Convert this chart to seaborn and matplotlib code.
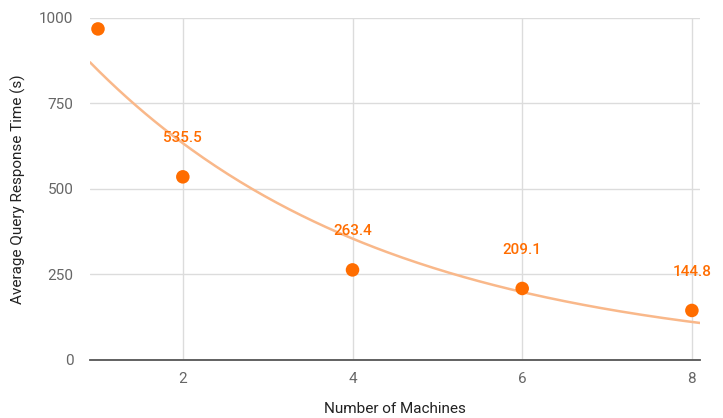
import numpy as np
import pandas as pd
import matplotlib
matplotlib.use("Agg")
import matplotlib.pyplot as plt
import seaborn as sns

# values
machines = [1, 2, 4, 6, 8]
response_time = [968, 535.5, 263.4, 209.1, 144.8]
point_labels = ["", "535.5", "263.4", "209.1", "144.8"]
y_ticks = [0, 250, 500, 750, 1000]
x_ticks = [2, 4, 6, 8]

# exponential trendline y = a * exp(b x)
trend_a = 1132
trend_b = -0.29

orange = "#ff6d00"
trend_color = "#f9b88a"

df = pd.DataFrame({"machines": machines, "time": response_time})

sns.set_style("white")
plt.rcParams["font.family"] = ["Roboto", "DejaVu Sans"]

fig = plt.figure(figsize=(7.23, 4.18), dpi=100)
ax = fig.add_axes([0.1245, 0.1388, 0.8435, 0.8182])

x_min, x_max = 0.906, 8.094
xs = np.linspace(x_min, x_max, 200)
trend = pd.DataFrame({"machines": xs, "time": trend_a * np.exp(trend_b * xs)})
sns.lineplot(data=trend, x="machines", y="time", ax=ax, color=trend_color,
             linewidth=1.8, zorder=2)
sns.scatterplot(data=df, x="machines", y="time", ax=ax, color=orange,
                s=95, edgecolor="none", zorder=3)

for xv, yv, lab in zip(machines, response_time, point_labels):
    if lab:
        ax.annotate(lab, (xv, yv), xytext=(0, 28), textcoords="offset points",
                    ha="center", va="center", color=orange, fontsize=11,
                    fontweight="medium")

ax.set_xlim(x_min, x_max)
ax.set_ylim(0, 1000)
ax.set_xticks(x_ticks)
ax.set_yticks(y_ticks)
ax.grid(True, color="#dcdcdc", linewidth=1)
ax.set_axisbelow(True)
for side in ["left", "right", "top"]:
    ax.spines[side].set_visible(False)
ax.spines["bottom"].set_color("#555555")
ax.spines["bottom"].set_linewidth(1.3)
ax.tick_params(axis="both", length=0, labelsize=11, labelcolor="#666666")
ax.tick_params(axis="x", pad=9)
ax.tick_params(axis="y", pad=12)

ax.set_xlabel("Number of Machines", fontsize=11, color="#222222", labelpad=11)
ax.set_ylabel("Average Query Response Time (s)", fontsize=11, color="#222222",
              labelpad=9)

fig.savefig("out.png", dpi=100)
plt.close(fig)
